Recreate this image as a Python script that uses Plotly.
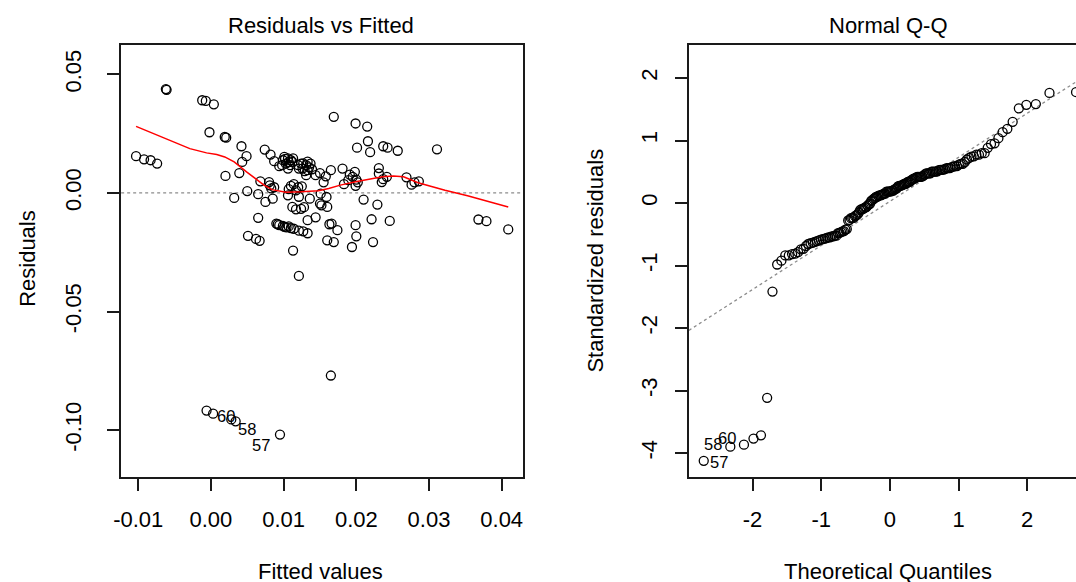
import numpy as np
import plotly.graph_objects as go
from statistics import NormalDist

# ---------------- data ----------------
fitted = [
    -0.0103, -0.0092, -0.0083, -0.0074,
    -0.0062, -0.0061, -0.0012, -0.0007, 0.0004, -0.0002,
    0.0019, 0.0021, 0.0042, 0.0049, 0.0043, 0.0039, 0.0020,
    0.0032, 0.0050, 0.0065, 0.0075, 0.0085, 0.0080, 0.0083, 0.0068,
    0.0074, 0.0082, 0.0087, 0.0094, 0.0101, 0.0106, 0.0110, 0.0103, 0.0098, 0.0106, 0.0112,
    0.0124, 0.0131, 0.0137, 0.0126, 0.0133, 0.0121, 0.0131, 0.0150, 0.0158, 0.0165, 0.0181, 0.0198,
    0.0169, 0.0199, 0.0215, 0.0216, 0.0201, 0.0219, 0.0237, 0.0243, 0.0257, 0.0311,
    0.0195, 0.0200, 0.0199, 0.0183,
    0.0231, 0.0231, 0.0242, 0.0235,
    0.0269, 0.0276, 0.0286,
    0.0110, 0.0120, 0.0106, 0.0121, 0.0136, 0.0151, 0.0159, 0.0150, 0.0160,
    0.0112, 0.0124,
    0.0065, 0.0090, 0.0094, 0.0099, 0.0104, 0.0110, 0.0121, 0.0133, 0.0133, 0.0144, 0.0166, 0.0174,
    0.0051, 0.0062, 0.0067, 0.0160, 0.0169, 0.0113,
    0.0199, 0.0194, 0.0200, 0.0210, 0.0229, 0.0221, 0.0246, 0.0223,
    0.0368, 0.0379, 0.0409,
    0.0121, 0.0165,
    0.0099, 0.0107, 0.0102, 0.0109, 0.0113,
    0.0127, 0.0135, 0.0129, 0.0139, 0.0120, 0.0133,
    0.0144, 0.0191,
    0.0114, 0.0125, 0.0107, 0.0117, 0.0081, 0.0087, 0.0155, 0.0202, 0.0237, 0.0280, 0.0189,
    0.0092, 0.0101, 0.0107, 0.0114, 0.0127, 0.0117, 0.0128, 0.0152, 0.0163,
    -0.0006, 0.0003, 0.0028, 0.0034, 0.0095,
]
residuals = [
    0.0155, 0.0142, 0.0138, 0.0124,
    0.0438, 0.0435, 0.0391, 0.0388, 0.0374, 0.0256,
    0.0236, 0.0233, 0.0197, 0.0155, 0.0131, 0.0084, 0.0072,
    -0.0021, 0.0008, -0.0005, -0.0038, -0.0024, 0.0046, 0.0019, 0.0049,
    0.0183, 0.0162, 0.0134, 0.0113, 0.0152, 0.0146, 0.0138, 0.0124, 0.0117, 0.0103, 0.0131,
    0.0124, 0.0117, 0.0124, 0.0103, 0.0096, 0.0103, 0.0075, 0.0084, 0.0070, 0.0096, 0.0103, 0.0089,
    0.0321, 0.0293, 0.0280, 0.0218, 0.0191, 0.0172, 0.0197, 0.0191, 0.0178, 0.0184,
    0.0068, 0.0056, 0.0030, 0.0037,
    0.0105, 0.0082, 0.0068, 0.0046,
    0.0066, 0.0035, 0.0049,
    0.0030, 0.0024, -0.0010, -0.0016, -0.0024, -0.0003, -0.0017, -0.0045, -0.0059,
    -0.0059, -0.0067,
    -0.0105, -0.0129, -0.0136, -0.0139, -0.0145, -0.0148, -0.0159, -0.0170, -0.0115, -0.0103, -0.0129, -0.0157,
    -0.0181, -0.0194, -0.0202, -0.0200, -0.0207, -0.0243,
    -0.0136, -0.0228, -0.0183, -0.0028, -0.0049, -0.0111, -0.0118, -0.0207,
    -0.0112, -0.0119, -0.0154,
    -0.0350, -0.0770,
    0.0138, 0.0130, 0.0144, 0.0117, 0.0146,
    0.0125, 0.0108, 0.0092, 0.0100, 0.0117, 0.0132,
    0.0075, 0.0077,
    0.0037, 0.0028, 0.0016, 0.0011, 0.0032, 0.0024, 0.0045, 0.0045, 0.0058, 0.0045, 0.0054,
    -0.0132, -0.0143, -0.0141, -0.0151, -0.0162, -0.0069, -0.0060, -0.0052, -0.0132,
    -0.0918, -0.0931, -0.0955, -0.0963, -0.1019,
]
# observation labels of the three flagged points (last three entries above)
label_names = ["60", "58", "57"]

# red smoother of the residual plot
lowess_x = [-0.0103, -0.0074, -0.0051, -0.0029, -0.0006, 0.0008, 0.0019, 0.0032, 0.0049,
            0.0062, 0.0073, 0.0084, 0.0103, 0.0124, 0.0148, 0.0162, 0.0178, 0.0199,
            0.0219, 0.0236, 0.0251, 0.0265, 0.0285, 0.0322, 0.0353, 0.0377, 0.0409]
lowess_y = [0.0281, 0.0244, 0.0215, 0.0187, 0.0169, 0.0162, 0.0152, 0.0131, 0.0089,
            0.0060, 0.0033, 0.0014, 0.0003, 0.0005, 0.0009, 0.0019, 0.0033, 0.0047,
            0.0060, 0.0068, 0.0071, 0.0068, 0.0043, 0.0011, -0.0012, -0.0031, -0.0059]

resid_scale = 0.0247  # residual standard error (std residual of obs 57 ~ -4.12)

x_ticks_1 = [-0.01, 0.00, 0.01, 0.02, 0.03, 0.04]
x_ticktext_1 = ["-0.01", "0.00", "0.01", "0.02", "0.03", "0.04"]
y_ticks_1 = [-0.10, -0.05, 0.00, 0.05]
y_ticktext_1 = ["-0.10", "-0.05", "0.00", "0.05"]
x_ticks_2 = [-2, -1, 0, 1, 2]
x_ticktext_2 = ["-2", "-1", "0", "1", "2"]
y_ticks_2 = [-4, -3, -2, -1, 0, 1, 2]
y_ticktext_2 = ["-4", "-3", "-2", "-1", "0", "1", "2"]

# ---------------- derived Q-Q values ----------------
n = len(residuals)
std_res = [r / resid_scale for r in residuals]
order = sorted(range(n), key=lambda i: std_res[i])
nd = NormalDist()
theo = [nd.inv_cdf((k + 0.5) / n) for k in range(n)]
sample = [std_res[i] for i in order]
q1y, q3y = np.quantile(sample, [0.25, 0.75])
q1x, q3x = nd.inv_cdf(0.25), nd.inv_cdf(0.75)
slope = (q3y - q1y) / (q3x - q1x)
intercept = q1y - slope * q1x

# ---------------- figure ----------------
W, H = 1076, 582
FONT = "Liberation Sans, Arial, sans-serif"
FS = 22
AX = "#1a1a1a"

fig = go.Figure()

marker = dict(symbol="circle-open", size=9, color="black", line=dict(width=1.3, color="black"))

fig.add_trace(go.Scatter(x=fitted, y=residuals, mode="markers", marker=marker,
                         xaxis="x", yaxis="y", showlegend=False, hoverinfo="skip"))
fig.add_trace(go.Scatter(x=lowess_x, y=lowess_y, mode="lines",
                         line=dict(color="red", width=1.5),
                         xaxis="x", yaxis="y", showlegend=False, hoverinfo="skip"))

x2_range = [-2.927, 2.71]
fig.add_trace(go.Scatter(x=x2_range, y=[intercept + slope * v for v in x2_range], mode="lines",
                         line=dict(color="#8c8c8c", width=1.3, dash="dot"),
                         xaxis="x2", yaxis="y2", showlegend=False, hoverinfo="skip"))
fig.add_trace(go.Scatter(x=theo, y=sample, mode="markers", marker=marker,
                         xaxis="x2", yaxis="y2", showlegend=False, hoverinfo="skip"))

# zero reference line in the residual plot
fig.add_shape(type="line", xref="x domain", x0=0, x1=1, yref="y", y0=0, y1=0,
              line=dict(color="#8c8c8c", width=1.3, dash="dot"), layer="below")

# point labels
label_idx = [n - 3, n - 2, n - 1]
lbl_font = dict(family=FONT, size=16.5, color="black")
left_offsets = {"60": ("left", -16, 3), "58": ("left", 0, -8), "57": ("right", -8, -10)}
for name, i in zip(label_names, label_idx):
    anc, xs, ys = left_offsets[name]
    fig.add_annotation(x=fitted[i], y=residuals[i], xref="x", yref="y", text=name,
                       showarrow=False, xanchor=anc, yanchor="middle", xshift=xs, yshift=ys,
                       font=lbl_font)
qq_offsets = {"57": ("left", 4, -1), "58": ("right", -6, 3), "60": ("right", -6, 7)}
for name, i in zip(label_names, label_idx):
    pos = order.index(i)
    anc, xs, ys = qq_offsets[name]
    fig.add_annotation(x=theo[pos], y=sample[pos], xref="x2", yref="y2", text=name,
                       showarrow=False, xanchor=anc, yanchor="middle", xshift=xs, yshift=ys,
                       font=lbl_font)

# titles and axis titles
tfont = dict(family=FONT, size=FS, color="black")
def ann(text, x, y, angle=0):
    fig.add_annotation(x=x / W, y=1 - y / H, xref="paper", yref="paper", text=text,
                       showarrow=False, xanchor="center", yanchor="middle",
                       textangle=angle, font=tfont)

ann("Residuals vs Fitted", 315, 26)
ann("Normal Q-Q", 887, 26)
ann("Fitted values", 315, 571)
ann("Theoretical Quantiles", 887, 571)
ann("Residuals", 19, 258, -90)
ann("Standardized residuals", 591, 261, -90)

common_axis = dict(showgrid=False, zeroline=False, showline=True, linecolor=AX, linewidth=1.5,
                   ticks="outside", ticklen=12, tickwidth=1.5, tickcolor=AX,
                   tickfont=dict(family=FONT, size=FS, color="black"))

fig.update_layout(
    width=W, height=H, margin=dict(l=0, r=0, t=0, b=0),
    paper_bgcolor="white", plot_bgcolor="white",
    xaxis=dict(domain=[114 / W, 519 / W], range=[-0.01235, 0.04295], anchor="y",
               tickmode="array", tickvals=x_ticks_1, ticktext=x_ticktext_1,
               mirror=True, ticklabelstandoff=10, **common_axis),
    yaxis=dict(domain=[1 - 477 / H, 1 - 45 / H], range=[-0.1198, 0.0624], anchor="x",
               tickmode="array", tickvals=y_ticks_1, ticktext=y_ticktext_1,
               mirror=True, tickangle=-90, ticklabelstandoff=18, **common_axis),
    xaxis2=dict(domain=[686 / W, 1.0], range=x2_range, anchor="y2",
                tickmode="array", tickvals=x_ticks_2, ticktext=x_ticktext_2,
                mirror=True, ticklabelstandoff=10, **common_axis),
    yaxis2=dict(domain=[1 - 477 / H, 1 - 45 / H], range=[-4.384, 2.528], anchor="x2",
                tickmode="array", tickvals=y_ticks_2, ticktext=y_ticktext_2,
                mirror=False, tickangle=-90, ticklabelstandoff=9, **common_axis),
)

fig.write_html("out.html")
